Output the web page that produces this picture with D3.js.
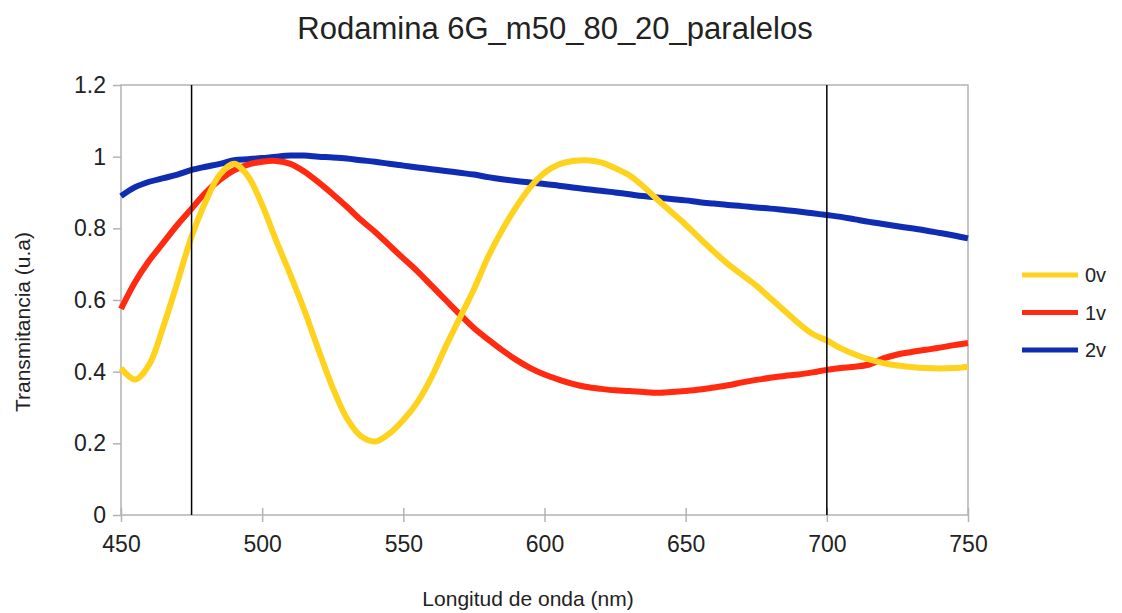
<!DOCTYPE html>
<html><head><meta charset="utf-8">
<script src="https://cdn.jsdelivr.net/npm/d3@7"></script>
<style>
html,body{margin:0;padding:0;background:#fff;}
svg text{font-family:"Liberation Sans",Arial,sans-serif;fill:#222;}
</style></head>
<body><svg id="c" width="1122" height="613"></svg>
<script>
// ---- data ----
const wavelengths = d3.range(450, 751, 5);
const v0 = [0.41,0.378,0.42,0.526,0.65,0.777,0.875,0.95,0.98,0.945,0.865,0.765,0.67,0.57,0.46,0.355,0.27,0.22,0.205,0.227,0.265,0.315,0.385,0.47,0.55,0.63,0.72,0.795,0.86,0.915,0.955,0.978,0.988,0.99,0.984,0.968,0.948,0.917,0.88,0.845,0.81,0.772,0.735,0.7,0.67,0.64,0.605,0.57,0.535,0.505,0.487,0.465,0.448,0.434,0.424,0.417,0.413,0.41,0.409,0.41,0.414];
const v1 = [0.575,0.65,0.71,0.76,0.81,0.855,0.9,0.935,0.962,0.978,0.986,0.988,0.98,0.958,0.928,0.895,0.86,0.823,0.79,0.753,0.716,0.68,0.64,0.6,0.56,0.522,0.49,0.46,0.433,0.41,0.392,0.378,0.366,0.357,0.352,0.348,0.346,0.343,0.341,0.343,0.346,0.35,0.356,0.362,0.37,0.377,0.383,0.388,0.392,0.398,0.405,0.41,0.414,0.42,0.437,0.448,0.455,0.461,0.467,0.474,0.48];
const v2 = [0.89,0.915,0.93,0.94,0.95,0.963,0.972,0.98,0.99,0.993,0.996,1.0,1.003,1.003,1.0,0.998,0.995,0.99,0.986,0.98,0.975,0.97,0.965,0.96,0.955,0.95,0.943,0.937,0.932,0.928,0.924,0.919,0.914,0.909,0.905,0.9,0.895,0.89,0.886,0.882,0.878,0.873,0.869,0.865,0.862,0.858,0.855,0.851,0.847,0.842,0.837,0.832,0.825,0.818,0.812,0.806,0.8,0.794,0.787,0.78,0.772];
const seriesNames = ["0v","1v","2v"];
const seriesColors = ["#FFD21E","#FF2A0F","#0F2DB2"];
const xTicks = [450,500,550,600,650,700,750];
const yTicks = [0,0.2,0.4,0.6,0.8,1,1.2];
const markers = [475,700];
const title = "Rodamina 6G_m50_80_20_paralelos";
const xTitle = "Longitud de onda (nm)";
const yTitle = "Transmitancia (u.a)";

// ---- drawing ----
const svg = d3.select("#c");
const L=121, R=968, T=85, B=515;
const x = d3.scaleLinear().domain([450,750]).range([L,R]);
const y = d3.scaleLinear().domain([0,1.2]).range([B,T]);
const grey="#b3b3b3";

svg.append("text").attr("x",555).attr("y",39).attr("text-anchor","middle")
  .style("font-size","31px").text(title);

// frame
svg.append("rect").attr("x",L).attr("y",T).attr("width",R-L).attr("height",B-T)
  .attr("fill","none").attr("stroke",grey).attr("stroke-width",1.5);

// y axis
const ya = svg.append("g").attr("transform",`translate(${L},0)`)
  .call(d3.axisLeft(y).tickValues(yTicks).tickFormat(d=>String(d)).tickSize(8).tickPadding(7));
ya.select(".domain").remove();
ya.selectAll("line").attr("stroke",grey).attr("stroke-width",1.5);
ya.selectAll("text").style("font-size","23px").attr("fill","#222").style("font-family","Liberation Sans, Arial, sans-serif");

// x axis
const xa = svg.append("g").attr("transform",`translate(0,${B})`)
  .call(d3.axisBottom(x).tickValues(xTicks).tickFormat(d=>String(d)).tickSize(7).tickPadding(14));
xa.select(".domain").remove();
xa.selectAll("line").attr("stroke",grey).attr("stroke-width",1.5).attr("y1",-7);
xa.selectAll("text").style("font-size","23px").attr("fill","#222").style("font-family","Liberation Sans, Arial, sans-serif");

svg.append("text").attr("x",528).attr("y",606).attr("text-anchor","middle")
  .style("font-size","21px").text(xTitle);
svg.append("text").attr("transform","translate(30,322) rotate(-90)").attr("text-anchor","middle")
  .style("font-size","21px").text(yTitle);

// series
const data = [v0,v1,v2];
const line = d3.line().x((d,i)=>x(wavelengths[i])).y(d=>y(d)).curve(d3.curveCatmullRom);
[2,1,0].forEach(k=>{
  svg.append("path").datum(data[k]).attr("d",line).attr("fill","none")
    .attr("stroke",seriesColors[k]).attr("stroke-width",6).attr("stroke-linejoin","round");
});

// marker lines
markers.forEach(m=>{
  svg.append("line").attr("x1",x(m)).attr("x2",x(m)).attr("y1",T).attr("y2",B)
    .attr("stroke","#000").attr("stroke-width",1.5);
});

// legend
const lg = svg.append("g");
seriesNames.forEach((n,i)=>{
  const yy = 275 + i*37.5;
  lg.append("line").attr("x1",1022).attr("x2",1078).attr("y1",yy).attr("y2",yy)
    .attr("stroke",seriesColors[i]).attr("stroke-width",5);
  lg.append("text").attr("x",1085).attr("y",yy+7).style("font-size","20px").text(n);
});
</script></body></html>
